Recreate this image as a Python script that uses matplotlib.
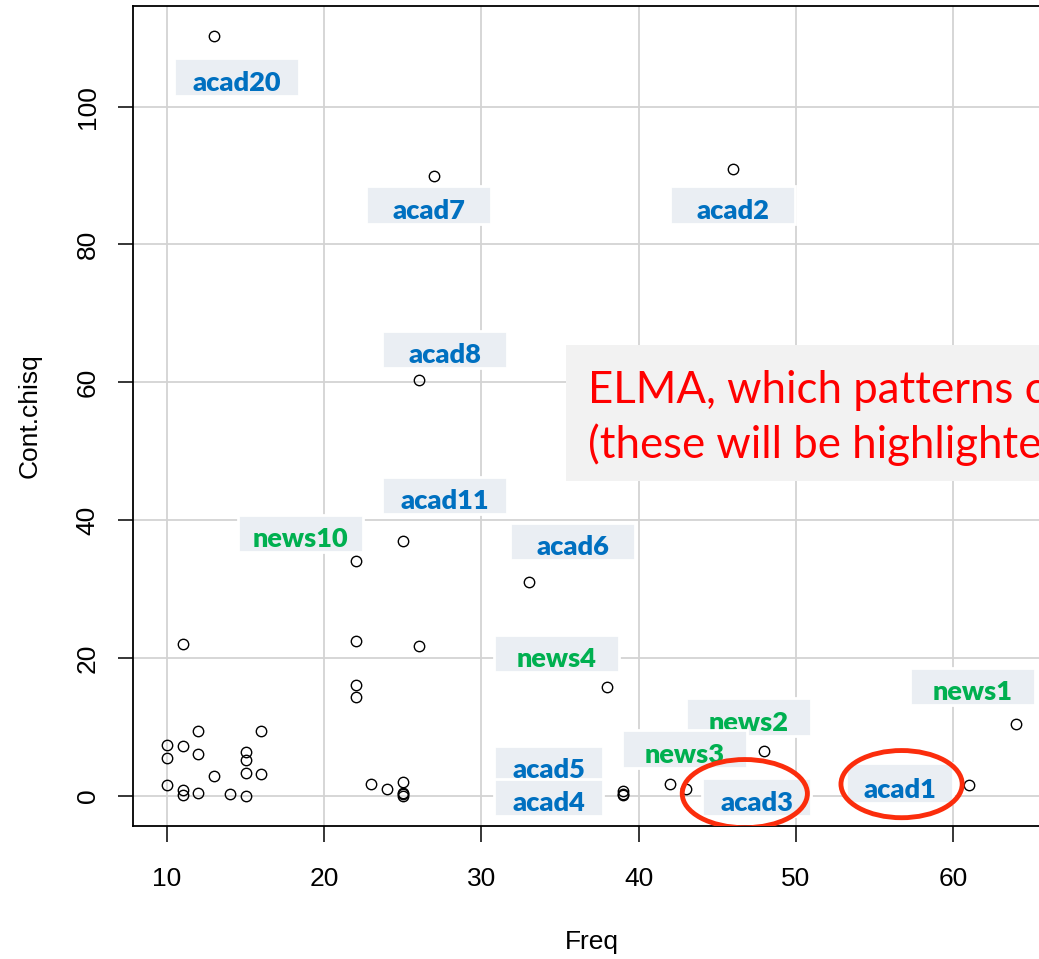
import matplotlib
matplotlib.use("Agg")
import matplotlib.pyplot as plt
from matplotlib.patches import Rectangle, Ellipse

# Pattern frequency vs. contribution to chi-square
freq = [13, 27, 46, 26, 25, 22, 33, 11, 22, 26, 22, 22, 38, 64, 48, 61, 42, 43,
        39, 39, 39, 10, 10, 10, 11, 11, 11, 12, 12, 12, 13, 14, 15, 15, 15, 15,
        16, 16, 23, 24, 25, 25, 25, 25]
cont_chisq = [110.2, 90.0, 91.0, 60.3, 37.0, 34.0, 31.0, 22.0, 22.5, 21.7, 16.0,
              14.3, 15.7, 10.4, 6.5, 1.5, 1.7, 1.0, 0.6, 0.3, 0.1, 7.3, 5.5, 1.6,
              7.2, 0.8, 0.15, 9.4, 6.0, 0.4, 2.8, 0.2, 6.3, 5.1, 3.3, 0.0, 9.4,
              3.1, 1.7, 1.0, 2.0, 0.4, 0.2, 0.0]

# label text, box centre (data units), box width/height (data units)
callouts = [
    ("acad20", 14.42, 104.3, 7.95, 5.4),
    ("acad7", 26.64, 85.73, 7.95, 5.4),
    ("acad2", 45.98, 85.73, 7.95, 5.4),
    ("acad8", 27.66, 64.76, 7.95, 5.4),
    ("acad11", 27.66, 43.57, 7.95, 5.4),
    ("news10", 18.50, 38.05, 7.95, 5.4),
    ("acad6", 35.80, 36.89, 7.95, 5.4),
    ("news4", 34.78, 20.64, 7.95, 5.4),
    ("news1", 61.24, 15.85, 7.95, 5.4),
    ("news2", 47.00, 11.42, 7.95, 5.4),
    ("news3", 42.92, 6.78, 7.95, 5.4),
    ("acad5", 34.27, 4.53, 6.93, 5.4),
    ("acad4", 34.27, -0.26, 6.93, 5.4),
    ("acad3", 47.50, -0.19, 6.93, 5.4),
    ("acad1", 56.60, 1.84, 6.81, 5.8),
]
circled = [("acad3", 46.75, 0.29, 7.96, 9.9), ("acad1", 56.72, 1.67, 7.71, 9.75)]

x_ticks = [10, 20, 30, 40, 50, 60]
y_ticks = [0, 20, 40, 60, 80, 100]

axis_font = ["Liberation Sans", "DejaVu Sans"]
label_font = ["Lato", "DejaVu Sans"]

W, H = 1039, 959
fig = plt.figure(figsize=(W / 100, H / 100), dpi=100)
ax = fig.add_axes([133 / W, 1 - 826 / H, (1050 - 133) / W, 820 / H])

# R-style 4% padding around the data range
xr = max(freq) - min(freq)
yr = max(cont_chisq) - min(cont_chisq)
ax.set_xlim(min(freq) - 0.04 * xr, max(freq) + 0.04 * xr)
ax.set_ylim(min(cont_chisq) - 0.04 * yr, max(cont_chisq) + 0.04 * yr)

for v in x_ticks:
    ax.axvline(v, color="#d3d3d3", lw=1.3, zorder=0)
for v in y_ticks:
    ax.axhline(v, color="#d3d3d3", lw=1.3, zorder=0)

ax.plot(freq, cont_chisq, "o", ms=7.5, mfc="none", mec="black", mew=1.0, zorder=2)

ax.set_xticks(x_ticks)
ax.set_yticks(y_ticks)
ax.set_xticklabels([str(v) for v in x_ticks], family=axis_font, fontsize=19)
ax.set_yticklabels([str(v) for v in y_ticks], family=axis_font, fontsize=19,
                   rotation=90, va="center")
ax.tick_params(axis="x", length=11.5, width=1.1, pad=18)
ax.tick_params(axis="y", length=11, width=1.1, pad=13)
for s in ax.spines.values():
    s.set_linewidth(1.3)

ax.set_xlabel("Freq", family=axis_font, fontsize=19)
ax.xaxis.set_label_coords(0.5, -0.1415)
ax.xaxis.label.set_va("center")
ax.set_ylabel("Cont.chisq", family=axis_font, fontsize=19)
ax.yaxis.set_label_coords(-103 / 917, 0.5)
ax.yaxis.label.set_va("center")

# callout boxes, drawn in order so later boxes sit on top of earlier ones
for i, (name, cx, cy, bw, bh) in enumerate(callouts):
    z = 3 + i * 0.01
    ax.add_patch(Rectangle((cx - bw / 2, cy - bh / 2), bw, bh, facecolor="#eaeef3",
                           edgecolor="white", lw=2, zorder=z))
    color = "#0070c0" if name.startswith("acad") else "#00b050"
    ax.annotate(name, (cx, cy - bh / 2), xytext=(0, 5), textcoords="offset pixels",
                ha="center", va="baseline", color=color, fontsize=19.5,
                fontweight="heavy", family=label_font, zorder=z + 0.001,
                annotation_clip=False)

for name, cx, cy, ew, eh in circled:
    ax.add_patch(Ellipse((cx, cy), ew, eh, facecolor="none", edgecolor="#fb2d0c",
                         lw=3.5, zorder=5))

# note box
fig.patches.append(Rectangle((566 / W, 1 - 481 / H), 600 / W, 136 / H,
                             transform=fig.transFigure, facecolor="#f2f2f2",
                             edgecolor="none", zorder=6))
fig.text(588 / W, 1 - 403 / H, "ELMA, which patterns contribute most",
         color="#ff0000", fontsize=31.5, family=label_font, va="baseline", zorder=7)
fig.text(588 / W, 1 - 458 / H, "(these will be highlighted)",
         color="#ff0000", fontsize=31.5, family=label_font, va="baseline", zorder=7)

fig.savefig("out.png", dpi=100)
